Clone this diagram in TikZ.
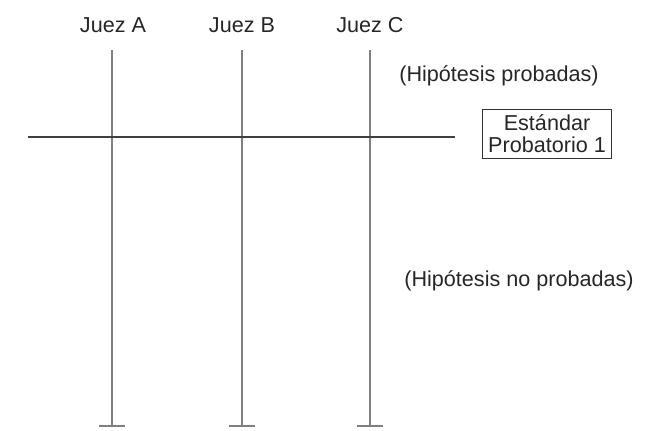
\documentclass[tikz,border=0pt]{standalone}
\usepackage{fontspec}
\setmainfont{Liberation Sans}

\begin{document}
\begin{tikzpicture}[x = 0.5pt, y = -0.5pt, font = \fontsize{10.8}{11}\selectfont]
    \tikzset{juez/.style = {draw = black!50, line width = 1pt},
             corte/.style = {draw = black!75, line width = 1pt}}
    \useasboundingbox (0,0) rectangle (653,430);
    % jueces
    \node[text = black!85] (jA) at (113,25) {Juez A};
    \node[text = black!85] (jB) at (242,25) {Juez B};
    \node[text = black!85] (jC) at (370,25) {Juez C};
    \coordinate (tA) at (112,50);
    \coordinate (tB) at (242,50);
    \coordinate (tC) at (370,50);
    \coordinate (fA) at (112,426);
    \coordinate (fB) at (242,426);
    \coordinate (fC) at (370,426);
    \draw[juez]
    (tA) -- (fA) ++(-13,0) -- ++(26,0)
    (tB) -- (fB) ++(-13,0) -- ++(26,0)
    (tC) -- (fC) ++(-13,0) -- ++(26,0);
    % estandar
    \coordinate (hI) at (28,137);
    \coordinate (hD) at (455,137);
    \draw[corte] (hI) -- (hD);
    \node[draw = black!80, line width = 0.6pt, align = center, text = black!85, inner sep = 1pt,
          minimum width = 64.5pt, minimum height = 24.5pt] (estandar) at (547,134) {Estándar\\Probatorio 1};
    \node[text = black!85] (probadas) at (499,76) {(Hipótesis probadas)};
    \node[text = black!85] (noprobadas) at (519,281) {(Hipótesis no probadas)};
\end{tikzpicture}
\end{document}
